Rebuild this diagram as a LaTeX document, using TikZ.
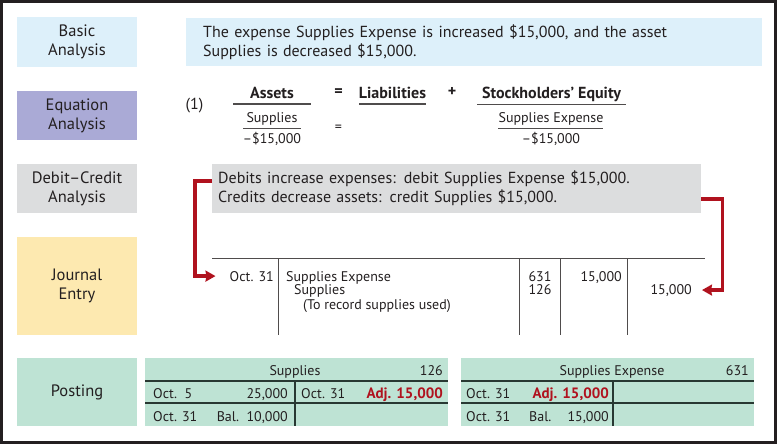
\documentclass[tikz,border=0pt]{standalone}
\usepackage{fontspec}
\setmainfont{PT Sans}
\usetikzlibrary{arrows.meta}

\definecolor{basicblue}{RGB}{221,240,250}
\definecolor{eqpurple}{RGB}{170,170,214}
\definecolor{dcgray}{RGB}{220,221,222}
\definecolor{jeyellow}{RGB}{253,233,176}
\definecolor{postgreen}{RGB}{190,227,212}
\definecolor{adjred}{RGB}{176,18,30}
\definecolor{tline}{RGB}{40,56,50}
\definecolor{ink}{RGB}{35,31,32}

\tikzset{
  stage/.style={minimum width=120pt, inner sep=0pt, align=center, text=ink,
    font=\fontsize{16.5}{19}\selectfont},
  why/.style={anchor=west, inner ysep=0pt, align=left, text=ink,
    font=\fontsize{16}{19}\selectfont},
  tx/.style={inner sep=0pt, text=ink, font=\fontsize{14}{16}\selectfont},
  bx/.style={tx, font=\fontsize{16}{18}\selectfont\bfseries},
  adj/.style={tx, font=\fontsize{15}{16}\selectfont\bfseries, text=adjred},
  link/.style={->, adjred, line width=3.5pt},
  trule/.style={tline, line width=1.6pt},
  jrule/.style={ink!80, line width=1pt}
}

\begin{document}
\begin{tikzpicture}[x=1pt, y=-1pt, >={Stealth[length=10pt, width=11pt, inset=1pt]}]
  \useasboundingbox (0,0) rectangle (777,444);
  \draw[ink, line width=3pt] (1.5,1.5) rectangle (775.5,442.5);

  \node[stage, fill=basicblue, minimum height=50pt] (basic) at (77,42) {Basic\\Analysis};
  \node[stage, fill=eqpurple, minimum height=49pt] (eqn) at (77,115.5) {Equation\\Analysis};
  \node[stage, fill=dcgray, minimum height=49pt] (dcl) at (77,188.5) {Debit–Credit\\Analysis};
  \node[stage, fill=jeyellow, minimum height=98pt] (jel) at (77,286) {Journal\\Entry};
  \node[stage, fill=postgreen, minimum height=68pt] (post) at (77,392) {Posting};

  \node[why, fill=basicblue, text width=542pt, inner xsep=17pt, minimum height=48pt]
    (ba) at (186,42) {The expense Supplies Expense is increased \$15,000, and the asset\\
    Supplies is decreased \$15,000.};
  \node[why, fill=dcgray, text width=477pt, inner xsep=6pt, minimum height=49pt]
    (dc) at (212,188.5) {Debits increase expenses: debit Supplies Expense \$15,000.\\
    Credits decrease assets: credit Supplies \$15,000.};

  \node[tx, anchor=base, font=\fontsize{16}{18}\selectfont] (one) at (194.5,110) {(1)};
  \node[bx, anchor=base] (assets) at (272,99) {Assets};
  \node[tx, anchor=base] (sup) at (272,122) {Supplies};
  \node[tx, anchor=base] (supamt) at (272,143) {–\$15,000};
  \node[bx] (eqa) at (338.5,93) {=};
  \node[tx] (eqb) at (338.5,128) {=};
  \node[bx, anchor=base] (liab) at (392.5,99) {Liabilities};
  \node[bx] (plus) at (452,92) {+};
  \node[bx, anchor=base] (se) at (551.5,99) {Stockholders’ Equity};
  \node[tx, anchor=base] (sexp) at (551,122) {Supplies Expense};
  \node[tx, anchor=base] (seamt) at (551,143) {–\$15,000};
  \draw[jrule, line width=1.5pt] (233,104) -- (311,104);
  \draw[jrule, line width=1.5pt] (243,128.5) -- (301,128.5);
  \draw[jrule, line width=1.5pt] (359,104) -- (426,104);
  \draw[jrule, line width=1.5pt] (477,104.5) -- (626,104.5);
  \draw[jrule, line width=1.5pt] (498,128.5) -- (603,128.5);

  \draw[jrule] (212,258) -- (705,258);
  \foreach \x in {278,519,560,627}
    \draw[jrule] (\x,258) -- (\x,335);
  \node[tx, anchor=base east] (jdate) at (274,281) {Oct. 31};
  \node[tx, anchor=base west] (jdr) at (286,281) {Supplies Expense};
  \node[tx, anchor=base west] (jcr) at (294,294) {Supplies};
  \node[tx, anchor=base west] (jexp) at (303,309) {(To record supplies used)};
  \node[tx, anchor=base] (jref1) at (540,281) {631};
  \node[tx, anchor=base] (jref2) at (540,294) {126};
  \node[tx, anchor=base east] (jdamt) at (622,281) {15,000};
  \node[tx, anchor=base east] (jcamt) at (692,294) {15,000};

  \draw[link] ([yshift=7.5pt]dc.west) -- ++(-17,0) |- ([xshift=-14pt]jdate.west);
  \draw[link] ([yshift=-10.5pt]dc.east) -- ++(21,0) |- ([xshift=10pt]jcamt.east);

  \fill[postgreen] (145,358) rectangle (448,426);
  \draw[trule] (145,381) -- (448,381) (145,403) -- (448,403) (295,381) -- (295,426);
  \node[tx, anchor=base] (sact) at (295,375) {Supplies};
  \node[tx, anchor=base east] (snum) at (443,375) {126};
  \node[tx, anchor=base west] (s1d) at (153,398) {Oct.\ \ 5};
  \node[tx, anchor=base east] (s1a) at (288,398) {25,000};
  \node[tx, anchor=base west] (s1c) at (301,398) {Oct. 31};
  \node[adj, anchor=base east] (s1adj) at (443,398) {Adj. 15,000};
  \node[tx, anchor=base west] (s2d) at (153,421) {Oct. 31};
  \node[tx, anchor=base east] (s2a) at (288,421) {Bal.\ \ 10,000};

  \fill[postgreen] (461,358) rectangle (754,426);
  \draw[trule] (461,381) -- (754,381) (461,403) -- (754,403) (613,381) -- (613,426);
  \node[tx, anchor=base] (eact) at (612,375) {Supplies Expense};
  \node[tx, anchor=base east] (enum) at (749,375) {631};
  \node[tx, anchor=base west] (e1d) at (466,398) {Oct. 31};
  \node[adj, anchor=base east] (e1adj) at (609,398) {Adj. 15,000};
  \node[tx, anchor=base west] (e2d) at (466,421) {Oct. 31};
  \node[tx, anchor=base west] (e2b) at (529,421) {Bal.};
  \node[tx, anchor=base east] (e2a) at (609,421) {15,000};
\end{tikzpicture}
\end{document}
